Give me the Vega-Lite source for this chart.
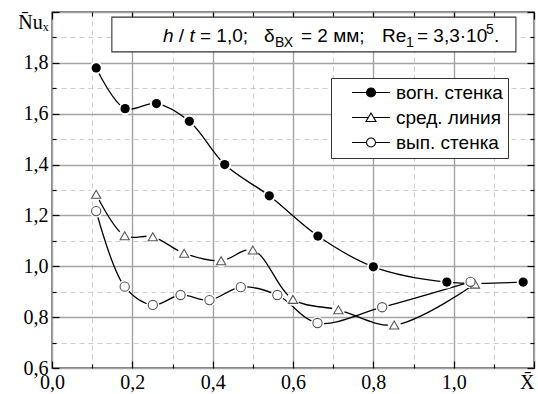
{
 "$schema": "https://vega.github.io/schema/vega-lite/v6.json",
 "width": 482, "height": 356,
 "autosize": {"type": "none"},
 "padding": {"left": 52, "top": 12, "right": 4, "bottom": 26},
 "background": "white",
 "data": {"values": [
  {"s": "вогн. стенка", "x": 0.11, "y": 1.78},
  {"s": "вогн. стенка", "x": 0.182, "y": 1.62},
  {"s": "вогн. стенка", "x": 0.26, "y": 1.64},
  {"s": "вогн. стенка", "x": 0.342, "y": 1.57},
  {"s": "вогн. стенка", "x": 0.43, "y": 1.40},
  {"s": "вогн. стенка", "x": 0.541, "y": 1.277},
  {"s": "вогн. стенка", "x": 0.662, "y": 1.119},
  {"s": "вогн. стенка", "x": 0.80, "y": 0.998},
  {"s": "вогн. стенка", "x": 0.983, "y": 0.938},
  {"s": "вогн. стенка", "x": 1.173, "y": 0.938},
  {"s": "сред. линия", "x": 0.11, "y": 1.283},
  {"s": "сред. линия", "x": 0.181, "y": 1.12},
  {"s": "сред. линия", "x": 0.251, "y": 1.116},
  {"s": "сред. линия", "x": 0.329, "y": 1.051},
  {"s": "сред. линия", "x": 0.421, "y": 1.022},
  {"s": "сред. линия", "x": 0.50, "y": 1.064},
  {"s": "сред. линия", "x": 0.60, "y": 0.87},
  {"s": "сред. линия", "x": 0.713, "y": 0.829},
  {"s": "сред. линия", "x": 0.852, "y": 0.769},
  {"s": "сред. линия", "x": 1.053, "y": 0.93},
  {"s": "вып. стенка", "x": 0.11, "y": 1.217},
  {"s": "вып. стенка", "x": 0.181, "y": 0.92},
  {"s": "вып. стенка", "x": 0.251, "y": 0.848},
  {"s": "вып. стенка", "x": 0.32, "y": 0.887},
  {"s": "вып. стенка", "x": 0.392, "y": 0.867},
  {"s": "вып. стенка", "x": 0.47, "y": 0.918},
  {"s": "вып. стенка", "x": 0.561, "y": 0.887},
  {"s": "вып. стенка", "x": 0.661, "y": 0.777},
  {"s": "вып. стенка", "x": 0.822, "y": 0.839},
  {"s": "вып. стенка", "x": 1.042, "y": 0.939}
 ]},
 "resolve": {"axis": {"x": "independent", "y": "independent"}},
 "layer": [
  {
   "mark": {"type": "line", "interpolate": "catmull-rom", "color": "black", "strokeWidth": 1.3},
   "encoding": {
    "x": {"field": "x", "type": "quantitative", "scale": {"domain": [0, 1.2], "nice": false, "zero": false},
     "axis": {"orient": "bottom", "values": [0, 0.1, 0.2, 0.3, 0.4, 0.5, 0.6, 0.7, 0.8, 0.9, 1.0, 1.1, 1.2], "grid": true, "title": null,
      "gridColor": {"condition": {"test": "round(datum.value*10)%2===0", "value": "#a3a3a3"}, "value": "#cdcdcd"},
      "gridDash": {"condition": {"test": "round(datum.value*10)%2===0", "value": []}, "value": [5, 4]},
      "gridWidth": {"condition": {"test": "round(datum.value*10)%2===0", "value": 1.4}, "value": 1},
      "tickColor": "black", "tickWidth": 1.2,
      "tickSize": {"condition": {"test": "round(datum.value*10)%2===0", "value": -7}, "value": -4},
      "labelExpr": "round(datum.value*10)%2!==0 ? '' : (datum.value > 1.15 ? 'X\u0304' : replace(format(datum.value, '.1f'), '.', ','))",
      "labelFont": "Liberation Serif", "labelFontSize": 20, "labelColor": "black", "labelPadding": 11,
      "labelAlign": {"condition": {"test": "datum.value > 1.15", "value": "right"}, "value": "center"},
      "labelFlush": false, "labelOverlap": false}},
    "y": {"field": "y", "type": "quantitative", "scale": {"domain": [0.6, 2.0], "nice": false, "zero": false},
     "axis": {"orient": "left", "values": [0.6, 0.7, 0.8, 0.9, 1.0, 1.1, 1.2, 1.3, 1.4, 1.5, 1.6, 1.7, 1.8, 1.9, 2.0], "grid": true, "title": null,
      "gridColor": {"condition": {"test": "round(datum.value*10)%2===0", "value": "#a3a3a3"}, "value": "#cdcdcd"},
      "gridDash": {"condition": {"test": "round(datum.value*10)%2===0", "value": []}, "value": [5, 4]},
      "gridWidth": {"condition": {"test": "round(datum.value*10)%2===0", "value": 1.4}, "value": 1},
      "tickColor": "black", "tickWidth": 1.2,
      "tickSize": {"condition": {"test": "round(datum.value*10)%2===0", "value": -7}, "value": -4},
      "labelExpr": "round(datum.value*10)%2!==0 ? '' : (datum.value > 1.95 ? 'N\u0304u\u2093' : replace(format(datum.value, '.1f'), '.', ','))",
      "labelFont": "Liberation Serif", "labelFontSize": 20, "labelColor": "black", "labelPadding": 11,
      "labelBaseline": {"condition": {"test": "datum.value > 1.95", "value": "top"}, "value": "middle"},
      "labelFlush": false, "labelOverlap": false}},
    "detail": {"field": "s"}
   }
  },
  {
   "mark": {"type": "point", "shape": "circle", "filled": true, "color": "white", "opacity": 1, "size": 170},
   "encoding": {
    "x": {"field": "x", "type": "quantitative", "scale": {"domain": [0, 1.2], "nice": false, "zero": false},
     "axis": {"orient": "top", "values": [0, 0.1, 0.2, 0.3, 0.4, 0.5, 0.6, 0.7, 0.8, 0.9, 1.0, 1.1, 1.2], "grid": false, "labels": false, "title": null,
      "tickColor": "black", "tickWidth": 1.2,
      "tickSize": {"condition": {"test": "round(datum.value*10)%2===0", "value": -7}, "value": -4}}},
    "y": {"field": "y", "type": "quantitative", "scale": {"domain": [0.6, 2.0], "nice": false, "zero": false},
     "axis": {"orient": "right", "values": [0.6, 0.7, 0.8, 0.9, 1.0, 1.1, 1.2, 1.3, 1.4, 1.5, 1.6, 1.7, 1.8, 1.9, 2.0], "grid": false, "labels": false, "title": null,
      "tickColor": "black", "tickWidth": 1.2,
      "tickSize": {"condition": {"test": "round(datum.value*10)%2===0", "value": -7}, "value": -4}}}
   }
  },
  {
   "transform": [{"filter": "datum.s === 'вогн. стенка'"}],
   "mark": {"type": "point", "shape": "circle", "filled": true, "color": "black", "opacity": 1, "size": 85},
   "encoding": {
    "x": {"field": "x", "type": "quantitative", "axis": null},
    "y": {"field": "y", "type": "quantitative", "axis": null}
   }
  },
  {
   "transform": [{"filter": "datum.s === 'сред. линия'"}],
   "mark": {"type": "point", "shape": "triangle-up", "filled": false, "fill": "white", "stroke": "#555555", "strokeWidth": 1.1, "opacity": 1, "size": 85},
   "encoding": {
    "x": {"field": "x", "type": "quantitative", "axis": null},
    "y": {"field": "y", "type": "quantitative", "axis": null}
   }
  },
  {
   "transform": [{"filter": "datum.s === 'вып. стенка'"}],
   "mark": {"type": "point", "shape": "circle", "filled": false, "fill": "white", "stroke": "#555555", "strokeWidth": 1.1, "opacity": 1, "size": 85},
   "encoding": {
    "x": {"field": "x", "type": "quantitative", "axis": null},
    "y": {"field": "y", "type": "quantitative", "axis": null}
   }
  },
  {
   "data": {"values": [{"s": "вогн. стенка"}]},
   "transform": [{"filter": "false"}],
   "mark": {"type": "point", "filled": true, "strokeWidth": 1.1, "opacity": 1},
   "encoding": {
    "shape": {"field": "s", "type": "nominal",
     "scale": {"domain": ["вогн. стенка", "сред. линия", "вып. стенка"],
      "range": ["M-3.8,0H3.8M0.9,0A0.9,0.9,0,1,1,-0.9,0A0.9,0.9,0,1,1,0.9,0Z", "M-3.8,0H-0.53M0.53,0H3.8M0,-0.9L1,0.8L-1,0.8Z", "M-3.8,0H-0.9M0.9,0H3.8M0.9,0A0.9,0.9,0,1,1,-0.9,0A0.9,0.9,0,1,1,0.9,0Z"]},
     "legend": {"title": null}},
    "fill": {"field": "s", "type": "nominal",
     "scale": {"domain": ["вогн. стенка", "сред. линия", "вып. стенка"], "range": ["black", "white", "white"]},
     "legend": {"title": null}},
    "stroke": {"field": "s", "type": "nominal",
     "scale": {"domain": ["вогн. стенка", "сред. линия", "вып. стенка"], "range": ["black", "black", "black"]},
     "legend": {"title": null}}
   }
  },
  {
   "data": {"values": [{}]},
   "mark": {"type": "rect", "fill": "white", "stroke": "#333333", "strokeWidth": 1.1},
   "encoding": {
    "x": {"datum": 0.149, "type": "quantitative", "axis": null},
    "x2": {"datum": 1.155},
    "y": {"datum": 1.98, "type": "quantitative", "axis": null},
    "y2": {"datum": 1.843}
   }
  },
  {"data": {"values": [{}]}, "mark": {"type": "text", "text": "h", "font": "Liberation Sans", "fontSize": 19, "fontStyle": "italic", "align": "left", "baseline": "alphabetic", "color": "black", "dx": 0},
   "encoding": {"x": {"datum": 0.2763, "type": "quantitative", "axis": null}, "y": {"datum": 1.882, "type": "quantitative", "axis": null}}},
  {"data": {"values": [{}]}, "mark": {"type": "text", "text": "/", "font": "Liberation Sans", "fontSize": 19, "align": "left", "baseline": "alphabetic", "color": "black", "dx": 15.8},
   "encoding": {"x": {"datum": 0.2763, "type": "quantitative", "axis": null}, "y": {"datum": 1.882, "type": "quantitative", "axis": null}}},
  {"data": {"values": [{}]}, "mark": {"type": "text", "text": "t", "font": "Liberation Sans", "fontSize": 19, "fontStyle": "italic", "align": "left", "baseline": "alphabetic", "color": "black", "dx": 26.4},
   "encoding": {"x": {"datum": 0.2763, "type": "quantitative", "axis": null}, "y": {"datum": 1.882, "type": "quantitative", "axis": null}}},
  {"data": {"values": [{}]}, "mark": {"type": "text", "text": "= 1,0;", "font": "Liberation Sans", "fontSize": 19, "align": "left", "baseline": "alphabetic", "color": "black", "dx": 37},
   "encoding": {"x": {"datum": 0.2763, "type": "quantitative", "axis": null}, "y": {"datum": 1.882, "type": "quantitative", "axis": null}}},
  {"data": {"values": [{}]}, "mark": {"type": "text", "text": "δ", "font": "Liberation Sans", "fontSize": 19, "align": "left", "baseline": "alphabetic", "color": "black", "dx": 101},
   "encoding": {"x": {"datum": 0.2763, "type": "quantitative", "axis": null}, "y": {"datum": 1.882, "type": "quantitative", "axis": null}}},
  {"data": {"values": [{}]}, "mark": {"type": "text", "text": "ВХ", "font": "Liberation Sans", "fontSize": 14, "align": "left", "baseline": "alphabetic", "color": "black", "dx": 112, "dy": 5},
   "encoding": {"x": {"datum": 0.2763, "type": "quantitative", "axis": null}, "y": {"datum": 1.882, "type": "quantitative", "axis": null}}},
  {"data": {"values": [{}]}, "mark": {"type": "text", "text": "= 2 мм;", "font": "Liberation Sans", "fontSize": 19, "align": "left", "baseline": "alphabetic", "color": "black", "dx": 138},
   "encoding": {"x": {"datum": 0.2763, "type": "quantitative", "axis": null}, "y": {"datum": 1.882, "type": "quantitative", "axis": null}}},
  {"data": {"values": [{}]}, "mark": {"type": "text", "text": "Re", "font": "Liberation Sans", "fontSize": 19, "align": "left", "baseline": "alphabetic", "color": "black", "dx": 219},
   "encoding": {"x": {"datum": 0.2763, "type": "quantitative", "axis": null}, "y": {"datum": 1.882, "type": "quantitative", "axis": null}}},
  {"data": {"values": [{}]}, "mark": {"type": "text", "text": "1", "font": "Liberation Sans", "fontSize": 14, "align": "left", "baseline": "alphabetic", "color": "black", "dx": 243, "dy": 5},
   "encoding": {"x": {"datum": 0.2763, "type": "quantitative", "axis": null}, "y": {"datum": 1.882, "type": "quantitative", "axis": null}}},
  {"data": {"values": [{}]}, "mark": {"type": "text", "text": "= 3,3·10", "font": "Liberation Sans", "fontSize": 19, "align": "left", "baseline": "alphabetic", "color": "black", "dx": 254},
   "encoding": {"x": {"datum": 0.2763, "type": "quantitative", "axis": null}, "y": {"datum": 1.882, "type": "quantitative", "axis": null}}},
  {"data": {"values": [{}]}, "mark": {"type": "text", "text": "5", "font": "Liberation Sans", "fontSize": 14, "align": "left", "baseline": "alphabetic", "color": "black", "dx": 323, "dy": -8},
   "encoding": {"x": {"datum": 0.2763, "type": "quantitative", "axis": null}, "y": {"datum": 1.882, "type": "quantitative", "axis": null}}},
  {"data": {"values": [{}]}, "mark": {"type": "text", "text": ".", "font": "Liberation Sans", "fontSize": 19, "align": "left", "baseline": "alphabetic", "color": "black", "dx": 331},
   "encoding": {"x": {"datum": 0.2763, "type": "quantitative", "axis": null}, "y": {"datum": 1.882, "type": "quantitative", "axis": null}}}
 ],
 "config": {
  "view": {"stroke": "black", "strokeWidth": 1.3},
  "axis": {"domain": false},
  "legend": {"orient": "none", "legendX": 279, "legendY": 66, "padding": 5, "strokeColor": "#333333", "fillColor": "white",
   "labelFont": "Liberation Sans", "labelFontSize": 19, "labelColor": "black", "symbolSize": 100, "symbolStrokeWidth": 1.1,
   "symbolStrokeColor": "black", "symbolOffset": 25.5, "labelOffset": 15.5, "rowPadding": 5, "labelLimit": 300}
 }
}
